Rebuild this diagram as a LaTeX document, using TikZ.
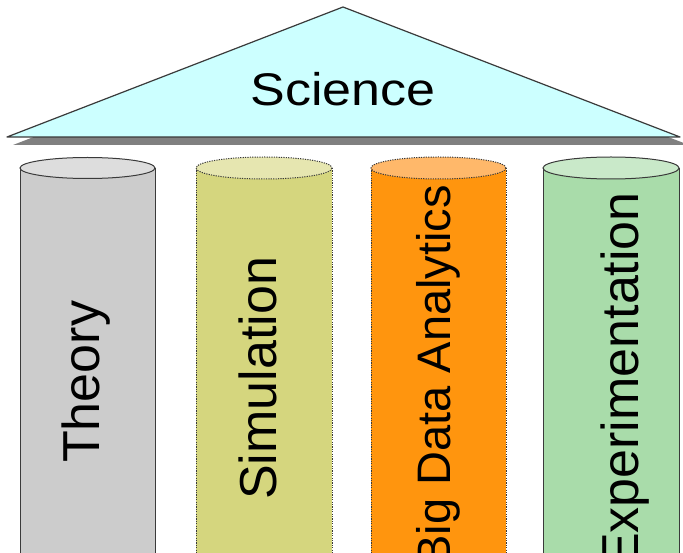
\documentclass[tikz,border=0pt]{standalone}
\usepackage{fontspec}
\setmainfont{Liberation Sans}
\definecolor{roofc}{HTML}{CCFFFF}
\definecolor{edgec}{HTML}{3A3A3A}
\definecolor{shadowc}{HTML}{808080}
\definecolor{theoryc}{HTML}{CCCCCC}
\definecolor{theorytop}{HTML}{DDDDDD}
\definecolor{simc}{HTML}{D5D67E}
\definecolor{simtop}{HTML}{E6E6B0}
\definecolor{bigc}{HTML}{FF950E}
\definecolor{bigtop}{HTML}{FFB86A}
\definecolor{expc}{HTML}{A9DCAA}
\definecolor{exptop}{HTML}{C9E9C9}
\tikzset{
  solidedge/.style={draw=edgec, line width=1pt},
  dotedge/.style={draw=edgec, line width=1pt, dash pattern=on 1.2pt off 1.2pt},
  label/.style={font=\fontsize{52}{60}\selectfont, inner sep=0pt, text=black},
}
\begin{document}
\begin{tikzpicture}[x=1pt,y=-1pt]
\clip (0,0) rectangle (683,553);
% roof shadow and roof
\fill[shadowc] (13,145) -- (349,15) -- (689,145) -- cycle;
\filldraw[fill=roofc, draw=edgec, line width=1.2pt, line join=round] (7,137) -- (343,7) -- (680,137) -- cycle;
\node[label, anchor=base, yscale=0.88] (sci) at (343,106) {Science};
% Theory
\fill[theoryc] (20,168) rectangle (155,570);
\draw[solidedge] (20,168) -- (20,570) (155,168) -- (155,570);
\filldraw[fill=theorytop, solidedge] (87.5,168) ellipse [x radius=67.5, y radius=10.5];
\node[label, rotate=90, anchor=base west] (th) at (99.5,463) {Theory};
% Simulation
\fill[simc] (196,168) rectangle (332,570);
\draw[dotedge] (196,168) -- (196,570) (332,168) -- (332,570);
\filldraw[fill=simtop, dotedge] (264,168) ellipse [x radius=68, y radius=11];
\node[label, rotate=90, anchor=base west] (sim) at (276,500) {Simulation};
% Big Data Analytics
\fill[bigc] (371,168) rectangle (506,570);
\draw[dotedge] (371,168) -- (371,570) (506,168) -- (506,570);
\filldraw[fill=bigtop, dotedge] (438.5,168) ellipse [x radius=67.5, y radius=11];
\node[label, font=\fontsize{47}{56}\selectfont, rotate=90, anchor=base east] (bda) at (450,185) {Big Data Analytics};
% Experimentation
\fill[expc] (543,168) rectangle (679,570);
\draw[solidedge] (543,168) -- (543,570) (679,168) -- (679,570);
\filldraw[fill=exptop, solidedge] (611,168) ellipse [x radius=68, y radius=11];
\node[label, rotate=90, anchor=base east] (exp) at (638,192) {Experimentation};
\end{tikzpicture}
\end{document}
